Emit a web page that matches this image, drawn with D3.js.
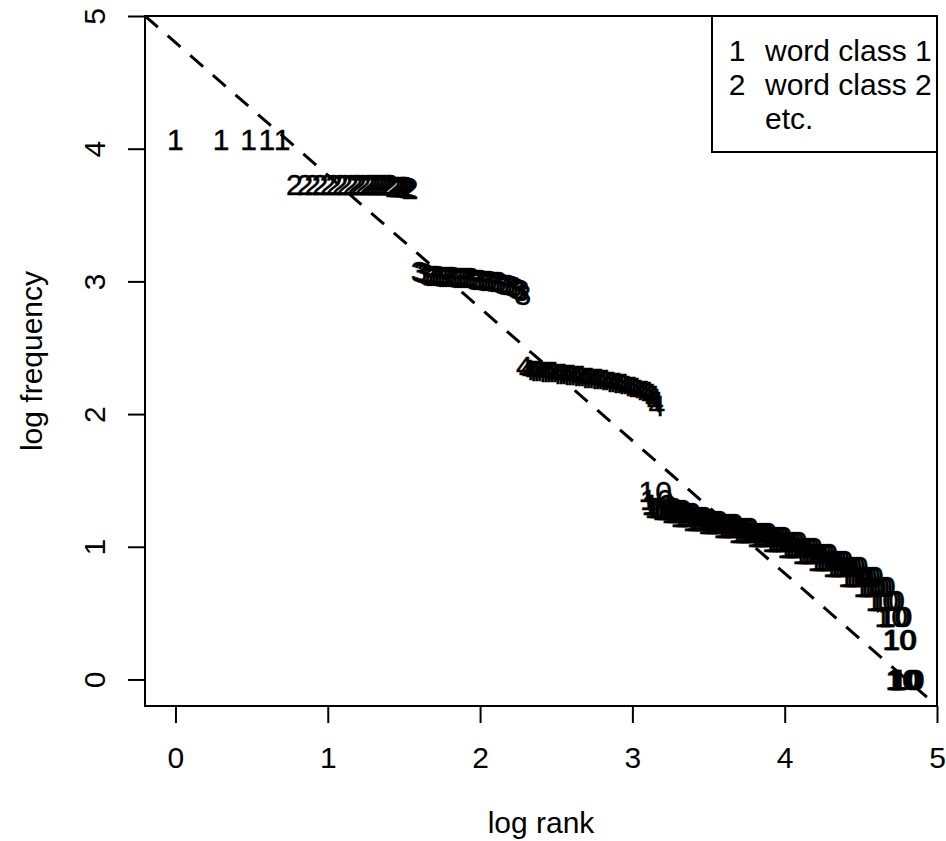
<html>
<head>
<style>
  body { margin: 0; background: #ffffff; }
  svg text { font-family: "Liberation Sans", Arial, sans-serif; fill: #000; }
</style>
</head>
<body>
<svg id="chart" width="946" height="841"></svg>
<script src="https://cdn.jsdelivr.net/npm/d3@7"></script>
<script>
// points are [log rank, log frequency], drawn as the word class label
let class1 = [[0.00, 4.07], [0.30, 4.07], [0.48, 4.07], [0.60, 4.07], [0.70, 4.07]]

let class2 = [[0.78, 3.73], [0.85, 3.73], [0.90, 3.73], [0.95, 3.73], [1.00, 3.73], [1.04, 3.73],
  [1.08, 3.73], [1.11, 3.73], [1.15, 3.73], [1.18, 3.73], [1.20, 3.73], [1.23, 3.73],
  [1.26, 3.73], [1.28, 3.73], [1.30, 3.73], [1.32, 3.73], [1.34, 3.73], [1.36, 3.73],
  [1.38, 3.73], [1.40, 3.73], [1.41, 3.73], [1.43, 3.72], [1.45, 3.72], [1.46, 3.72],
  [1.48, 3.72], [1.49, 3.72], [1.50, 3.72], [1.51, 3.72], [1.52, 3.71], [1.53, 3.71],
  [1.54, 3.70]]

let class3 = [[1.60, 3.08], [1.62, 3.07], [1.64, 3.06], [1.66, 3.05], [1.68, 3.05], [1.70, 3.05],
  [1.72, 3.05], [1.74, 3.04], [1.76, 3.04], [1.78, 3.04], [1.80, 3.04], [1.82, 3.04],
  [1.84, 3.03], [1.86, 3.03], [1.88, 3.03], [1.90, 3.03], [1.92, 3.03], [1.94, 3.03],
  [1.96, 3.02], [1.98, 3.02], [2.00, 3.02], [2.02, 3.01], [2.04, 3.01], [2.06, 3.01],
  [2.08, 3.00], [2.10, 3.00], [2.12, 3.00], [2.14, 2.99], [2.16, 2.98], [2.18, 2.98],
  [2.20, 2.97], [2.22, 2.96], [2.24, 2.95], [2.26, 2.94], [2.27, 2.93], [2.28, 2.90]]

let class4 = [[2.29, 2.36], [2.31, 2.34], [2.33, 2.33], [2.35, 2.33], [2.37, 2.33], [2.39, 2.32],
  [2.41, 2.32], [2.43, 2.32], [2.45, 2.32], [2.47, 2.32], [2.49, 2.31], [2.51, 2.31],
  [2.53, 2.31], [2.55, 2.30], [2.57, 2.30], [2.59, 2.30], [2.61, 2.29], [2.63, 2.29],
  [2.65, 2.29], [2.67, 2.28], [2.69, 2.28], [2.71, 2.28], [2.73, 2.27], [2.75, 2.27],
  [2.77, 2.27], [2.79, 2.26], [2.81, 2.26], [2.83, 2.25], [2.85, 2.25], [2.87, 2.24],
  [2.89, 2.24], [2.91, 2.23], [2.93, 2.23], [2.95, 2.22], [2.97, 2.21], [2.99, 2.21],
  [3.01, 2.20], [3.03, 2.19], [3.05, 2.18], [3.07, 2.18], [3.09, 2.17], [3.11, 2.16],
  [3.13, 2.14], [3.14, 2.12], [3.15, 2.10], [3.16, 2.07]]

let class10 = [[3.15, 1.42], [3.16, 1.36], [3.17, 1.32], [3.18, 1.32], [3.19, 1.30], [3.21, 1.30],
  [3.22, 1.30], [3.24, 1.28], [3.26, 1.28], [3.28, 1.28], [3.30, 1.26], [3.32, 1.26],
  [3.34, 1.26], [3.36, 1.23], [3.38, 1.23], [3.40, 1.23], [3.42, 1.23], [3.44, 1.20],
  [3.46, 1.20], [3.48, 1.20], [3.50, 1.20], [3.52, 1.20], [3.54, 1.18], [3.56, 1.18],
  [3.58, 1.18], [3.60, 1.18], [3.62, 1.18], [3.64, 1.15], [3.66, 1.15], [3.68, 1.15],
  [3.70, 1.15], [3.72, 1.15], [3.74, 1.11], [3.76, 1.11], [3.78, 1.11], [3.80, 1.11],
  [3.82, 1.11], [3.84, 1.11], [3.86, 1.08], [3.88, 1.08], [3.90, 1.08], [3.92, 1.08],
  [3.94, 1.08], [3.96, 1.04], [3.98, 1.04], [4.00, 1.04], [4.02, 1.04], [4.04, 1.04],
  [4.06, 1.00], [4.08, 1.00], [4.10, 1.00], [4.12, 1.00], [4.14, 1.00], [4.16, 0.95],
  [4.18, 0.95], [4.20, 0.95], [4.22, 0.95], [4.24, 0.95], [4.26, 0.90], [4.28, 0.90],
  [4.30, 0.90], [4.32, 0.90], [4.34, 0.90], [4.36, 0.85], [4.38, 0.85], [4.40, 0.85],
  [4.42, 0.85], [4.44, 0.85], [4.46, 0.78], [4.48, 0.78], [4.50, 0.78], [4.52, 0.78],
  [4.54, 0.78], [4.56, 0.70], [4.58, 0.70], [4.60, 0.70], [4.62, 0.70], [4.64, 0.60],
  [4.66, 0.60], [4.68, 0.60], [4.70, 0.48], [4.72, 0.48], [4.73, 0.48], [4.75, 0.30],
  [4.76, 0.30], [4.77, 0.00], [4.78, 0.00], [4.79, 0.00], [4.80, 0.00], [4.81, 0.00]]

let classes = [
  { label: "1", points: class1 },
  { label: "2", points: class2 },
  { label: "3", points: class3 },
  { label: "4", points: class4 },
  { label: "10", points: class10 }
]

// dashed reference line: log frequency = intercept + slope * log rank
let refIntercept = 4.8
let refSlope = -1

let xTicks = [0, 1, 2, 3, 4, 5]
let yTicks = [0, 1, 2, 3, 4, 5]
let legendRows = [["1", "word class 1"], ["2", "word class 2"], ["", "etc."]]

let svg = d3.select("#chart")
let pLeft = 145, pRight = 937, pTop = 16, pBottom = 706
let fontSize = 30

let xScale = d3.scaleLinear().domain([-0.2, 5.0]).range([pLeft, pRight])
let yScale = d3.scaleLinear().domain([-0.2, 5.0]).range([pBottom, pTop])

svg.append("defs").append("clipPath").attr("id", "plotclip")
  .append("rect")
  .attr("x", pLeft).attr("y", pTop)
  .attr("width", pRight - pLeft).attr("height", pBottom - pTop)

let plot = svg.append("g").attr("clip-path", "url(#plotclip)")

// point labels
classes.forEach(c => {
  plot.append("g")
    .selectAll("text")
    .data(c.points)
    .enter()
    .append("text")
    .attr("x", d => xScale(d[0]))
    .attr("y", d => yScale(d[1]))
    .attr("dy", "0.36em")
    .attr("text-anchor", "middle")
    .style("font-size", fontSize + "px")
    .style("stroke", "#000")
    .style("stroke-width", 0.4)
    .text(c.label)
})

// reference line
let xd = xScale.domain()
plot.append("line")
  .attr("x1", xScale(xd[0])).attr("y1", yScale(refIntercept + refSlope * xd[0]))
  .attr("x2", xScale(xd[1])).attr("y2", yScale(refIntercept + refSlope * xd[1]))
  .attr("stroke", "#000")
  .attr("stroke-width", 3)
  .attr("stroke-dasharray", "17,13")

// axes
let xAxis = d3.axisBottom(xScale).tickValues(xTicks).tickSize(17).tickPadding(24)
  .tickFormat(d3.format("d"))
let xg = svg.append("g").attr("transform", `translate(0,${pBottom})`).call(xAxis)
xg.attr("font-family", null)
xg.select(".domain").remove()
xg.selectAll("line").attr("stroke-width", 2)
xg.selectAll("text").style("font-size", fontSize + "px")

let yAxis = d3.axisLeft(yScale).tickValues(yTicks).tickSize(17).tickFormat(d3.format("d"))
let yg = svg.append("g").attr("transform", `translate(${pLeft},0)`).call(yAxis)
yg.attr("font-family", null)
yg.select(".domain").remove()
yg.selectAll("line").attr("stroke-width", 2)
yg.selectAll("text")
  .attr("x", null)
  .attr("text-anchor", "middle")
  .attr("transform", "translate(-51,0) rotate(-90)")
  .attr("y", 0)
  .attr("dy", "0.36em")
  .style("font-size", fontSize + "px")

// box
svg.append("rect")
  .attr("x", pLeft).attr("y", pTop)
  .attr("width", pRight - pLeft).attr("height", pBottom - pTop)
  .attr("fill", "none").attr("stroke", "#000").attr("stroke-width", 2)

// axis titles
svg.append("text")
  .attr("x", (pLeft + pRight) / 2).attr("y", 822)
  .attr("dy", "0.36em")
  .attr("text-anchor", "middle")
  .style("font-size", fontSize + "px")
  .text("log rank")

svg.append("text")
  .attr("transform", `translate(31,${(pTop + pBottom) / 2}) rotate(-90)`)
  .attr("text-anchor", "middle")
  .attr("dy", "0.36em")
  .style("font-size", fontSize + "px")
  .text("log frequency")

// legend
let legend = svg.append("g")
legend.append("rect")
  .attr("x", 712).attr("y", pTop)
  .attr("width", pRight - 712).attr("height", 152 - pTop)
  .attr("fill", "#fff").attr("stroke", "#000").attr("stroke-width", 2)

legendRows.forEach((r, i) => {
  let yy = 50 + i * 34
  legend.append("text")
    .attr("x", 737).attr("y", yy).attr("dy", "0.36em")
    .attr("text-anchor", "middle")
    .style("font-size", fontSize + "px")
    .text(r[0])
  legend.append("text")
    .attr("x", 765).attr("y", yy).attr("dy", "0.36em")
    .style("font-size", fontSize + "px")
    .text(r[1])
})
</script>
</body>
</html>
